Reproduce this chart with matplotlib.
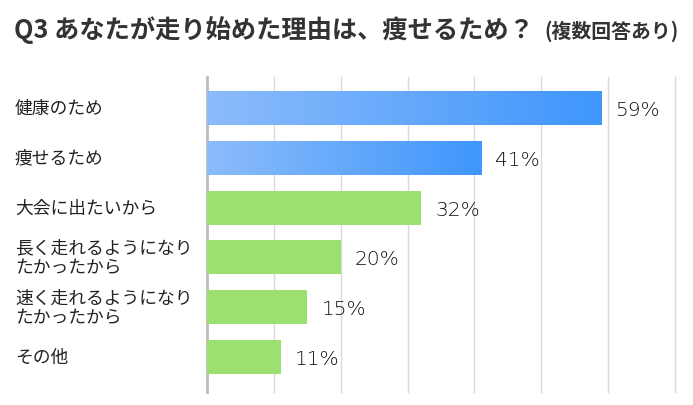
import numpy as np
import matplotlib
matplotlib.use("Agg")
import matplotlib.pyplot as plt
from matplotlib.colors import LinearSegmentedColormap

plt.rcParams['font.family'] = ['Noto Sans CJK JP', 'DejaVu Sans']

title_main = "Q3 あなたが走り始めた理由は、痩せるため？"
title_sub = "(複数回答あり)"
categories = ["健康のため", "痩せるため", "大会に出たいから",
              "長く走れるようになり\nたかったから",
              "速く走れるようになり\nたかったから", "その他"]
values = [59, 41, 32, 20, 15, 11]
gradient_flags = [True, True, False, False, False, False]
value_labels = ["59%", "41%", "32%", "20%", "15%", "11%"]
grid_ticks = [10, 20, 30, 40, 50, 60, 70]

W, H = 693, 406
fig = plt.figure(figsize=(W / 100, H / 100), dpi=100)
fig.patch.set_facecolor("white")

ax = fig.add_axes([207 / W, 1 - 393 / H, (675 - 207) / W, (393 - 78) / H])
ax.set_facecolor("white")

blue_cmap = LinearSegmentedColormap.from_list("bl", ["#8cbcfa", "#3f96fd"])
green = "#9ce072"
bar_h = 0.68
ypos = np.arange(len(categories)) * 1.0

grad = np.linspace(0, 1, 256).reshape(1, -1)
for i, (v, g) in enumerate(zip(values, gradient_flags)):
    y = ypos[i]
    if g:
        ax.imshow(grad, cmap=blue_cmap, aspect="auto",
                  extent=(0, v, y + bar_h / 2, y - bar_h / 2), zorder=3,
                  interpolation="bilinear")
    else:
        ax.barh(y, v, height=bar_h, color=green, zorder=3, linewidth=0)
    ax.text(v + 2.1, y + 0.03, value_labels[i], va="center", ha="left",
            fontsize=14.5, color="#111111",
            family=["DejaVu Sans"], fontweight=200)

ax.set_xlim(0, 70)
ax.set_ylim(5.7, -0.62)

for gx in grid_ticks:
    ax.axvline(gx, color="#d9d9d9", linewidth=1.0, zorder=1, clip_on=False)

for s in ["top", "right", "bottom"]:
    ax.spines[s].set_visible(False)
ax.spines["left"].set_color("#bdbdbd")
ax.spines["left"].set_linewidth(2.0)
ax.set_xticks([])
ax.set_yticks([])

for i, c in enumerate(categories):
    yd = ypos[i]
    disp = ax.transData.transform((0, yd))
    fy = fig.transFigure.inverted().transform(disp)[1]
    fig.text(15 / W, fy, c, ha="left", va="center", fontsize=12.8,
             color="#222222", linespacing=1.1)

t1 = fig.text(14 / W, 1 - 30 / H, title_main, ha="left", va="center",
              fontsize=18.2, fontweight="bold", color="#333333")
fig.canvas.draw()
bb = t1.get_window_extent(fig.canvas.get_renderer())
fig.text((bb.x1 + 11) / W, 1 - 31 / H, title_sub, ha="left", va="center",
         fontsize=14.3, fontweight="bold", color="#333333")

fig.savefig("out.png", dpi=100, facecolor="white")
